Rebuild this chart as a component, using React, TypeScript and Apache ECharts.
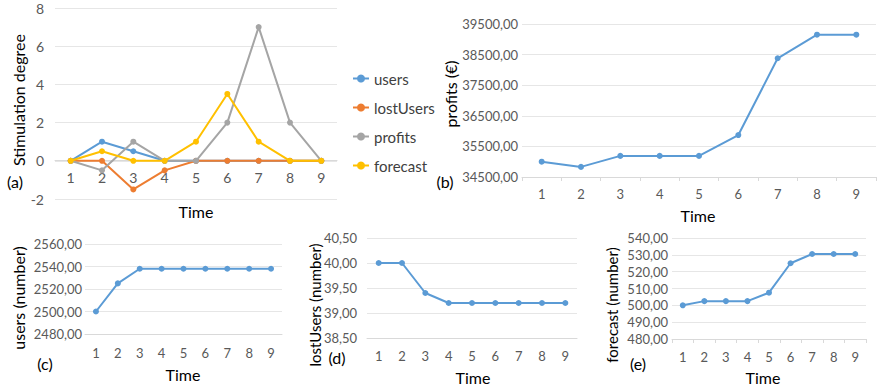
import React, { useEffect, useRef } from "react";
import * as echarts from "echarts";

const times = ["1", "2", "3", "4", "5", "6", "7", "8", "9"];
const stimUsers = [0, 1, 0.5, 0, 0, 0, 0, 0, 0];
const stimLostUsers = [0, 0, -1.5, -0.5, 0, 0, 0, 0, 0];
const stimProfits = [0, -0.5, 1, 0, 0, 2, 7, 2, 0];
const stimForecast = [0, 0.5, 0, 0, 1, 3.5, 1, 0, 0];
const profitsEur = [35000, 34830, 35190, 35190, 35190, 35870, 38380, 39150, 39150];
const usersNum = [2500, 2525, 2538, 2538, 2538, 2538, 2538, 2538, 2538];
const lostUsersNum = [40, 40, 39.4, 39.2, 39.2, 39.2, 39.2, 39.2, 39.2];
const forecastNum = [500, 502.5, 502.5, 502.5, 507.5, 525, 530.5, 530.5, 530.5];

const BLUE = "#5B9BD5";
const ORANGE = "#ED7D31";
const GRAY = "#A5A5A5";
const YELLOW = "#FFC000";
const FONT = "Lato";
const TICK = "#595959";
const GRID = "#E6E6E6";

const comma = (v: number) => v.toFixed(2).replace(".", ",");

function xAxis(gi: number, size: number, margin: number, ticks: boolean, offset = 0) {
  return {
    type: "category",
    gridIndex: gi,
    data: times,
    boundaryGap: true,
    offset,
    axisLine: { show: true, onZero: false, lineStyle: { color: "#D9D9D9" } },
    axisTick: { show: ticks, length: 4, lineStyle: { color: "#D9D9D9" } },
    axisLabel: { color: TICK, fontFamily: FONT, fontSize: size, margin },
  };
}

function yAxis(gi: number, min: number, max: number, interval: number, size: number, margin: number, fmt: (v: number) => string) {
  return {
    type: "value",
    gridIndex: gi,
    min,
    max,
    interval,
    axisLine: { show: false },
    axisTick: { show: false },
    splitLine: { show: true, lineStyle: { color: GRID } },
    axisLabel: { color: TICK, fontFamily: FONT, fontSize: size, margin, formatter: fmt },
  };
}

function line(name: string, data: number[], color: string, xi: number, yi: number, z: number) {
  return {
    name,
    type: "line",
    data,
    xAxisIndex: xi,
    yAxisIndex: yi,
    symbol: "circle",
    symbolSize: 6,
    z,
    lineStyle: { color, width: 2 },
    itemStyle: { color },
  };
}

function txt(x: number, y: number, text: string, size: number, rot = 0, color = "#000") {
  return {
    type: "text",
    x,
    y,
    rotation: rot,
    style: {
      text,
      fill: color,
      font: `${size}px ${FONT}`,
      textAlign: "center",
      textVerticalAlign: "middle",
    },
  };
}

export default function App() {
  const ref = useRef<HTMLDivElement>(null);
  useEffect(() => {
    if (!ref.current) return;
    const chart = echarts.init(ref.current, undefined, { renderer: "svg" });
    chart.setOption({
      animation: false,
      backgroundColor: "#fff",
      grid: [
        { left: 55, top: 8, width: 282, height: 191 },
        { left: 522, top: 24, width: 354, height: 153 },
        { left: 85, top: 244, width: 197, height: 90 },
        { left: 367, top: 238, width: 210, height: 100 },
        { left: 672, top: 238, width: 194, height: 101 },
      ],
      xAxis: [
        xAxis(0, 14, 10, false, -39),
        xAxis(1, 13, 10, true),
        xAxis(2, 13, 12, false),
        xAxis(3, 13, 11, false),
        xAxis(4, 13, 11, true),
      ],
      yAxis: [
        yAxis(0, -2, 8, 2, 14, 11, (v: number) => String(v)),
        yAxis(1, 34500, 39500, 1000, 13, 4, comma),
        yAxis(2, 2480, 2560, 20, 13, 3, comma),
        yAxis(3, 38.5, 40.5, 0.5, 13, 10, comma),
        yAxis(4, 480, 540, 10, 13, 4, comma),
      ],
      legend: {
        orient: "vertical",
        left: 347,
        top: 66,
        itemWidth: 16,
        itemHeight: 10,
        itemGap: 14,
        data: ["users", "lostUsers", "profits", "forecast"],
        textStyle: { color: "#404040", fontFamily: FONT, fontSize: 15 },
      },
      series: [
        line("users", stimUsers, BLUE, 0, 0, 2),
        line("lostUsers", stimLostUsers, ORANGE, 0, 0, 3),
        line("profits", stimProfits, GRAY, 0, 0, 4),
        line("forecast", stimForecast, YELLOW, 0, 0, 5),
        line("profitsTotal", profitsEur, BLUE, 1, 1, 2),
        line("usersTotal", usersNum, BLUE, 2, 2, 2),
        line("lostUsersTotal", lostUsersNum, BLUE, 3, 3, 2),
        line("forecastTotal", forecastNum, BLUE, 4, 4, 2),
      ],
      graphic: [
        txt(18, 100, "Stimulation degree", 16, Math.PI / 2),
        txt(196, 211, "Time", 16),
        txt(15, 181, "(a)", 16),
        txt(450, 94, "profits (€)", 16, Math.PI / 2),
        txt(445, 181, "(b)", 16),
        txt(698, 215, "Time", 16),
        txt(18, 298, "users (number)", 16, Math.PI / 2),
        txt(183, 374, "Time", 16),
        txt(45, 363, "(c)", 16),
        txt(315, 305, "lostUsers (number)", 15, Math.PI / 2),
        txt(473, 377, "Time", 16),
        txt(337, 357, "(d)", 16),
        txt(612, 305, "forecast (number)", 15, Math.PI / 2),
        txt(763, 377, "Time", 16),
        txt(638, 363, "(e)", 16),
      ],
    });
    return () => chart.dispose();
  }, []);
  return (
    <div
      ref={ref}
      style={{ position: "fixed", left: 0, top: 0, width: 880, height: 388 }}
    />
  );
}
